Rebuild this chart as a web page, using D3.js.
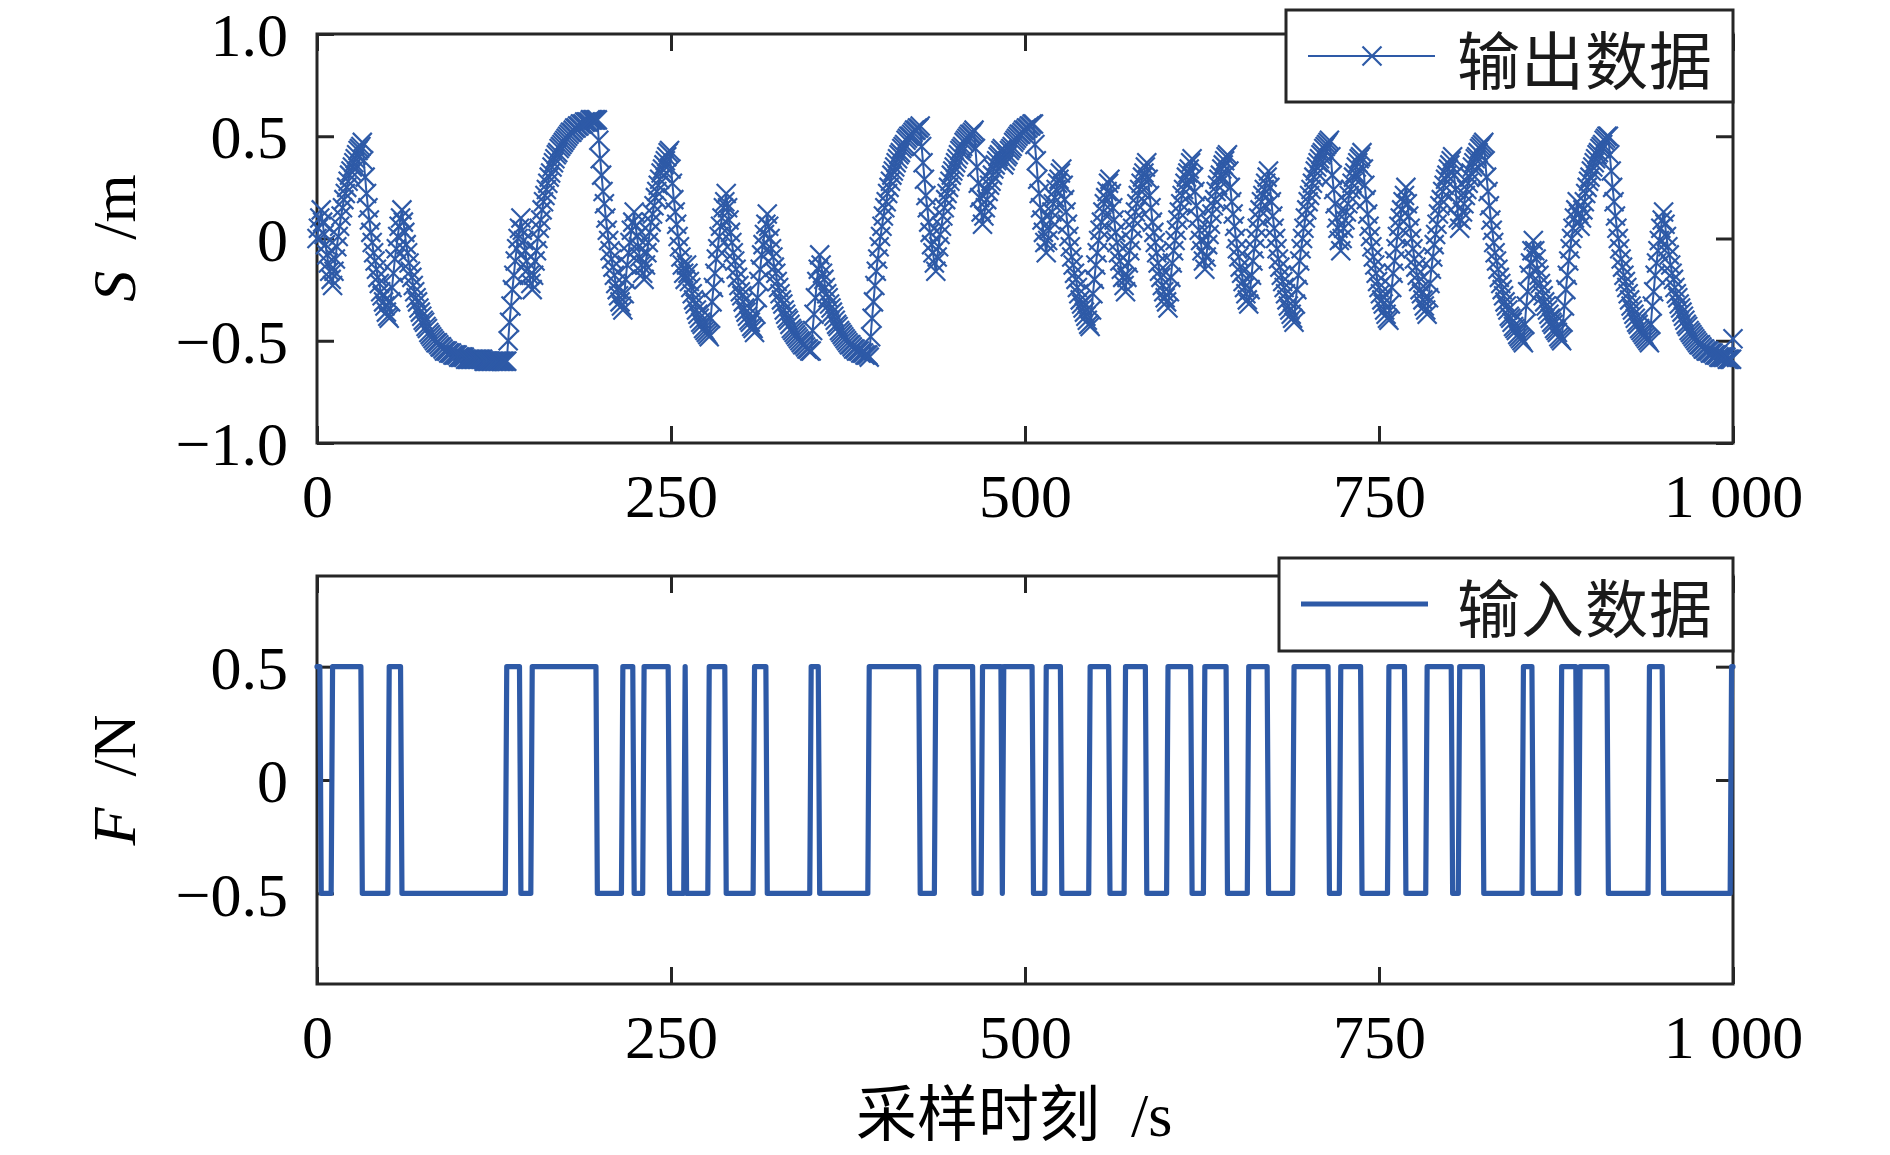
<!DOCTYPE html>
<html><head><meta charset="utf-8">
<script src="https://cdn.jsdelivr.net/npm/d3@7"></script>
<style>body{margin:0;background:#fff}</style>
</head><body>
<svg id="c" width="1890" height="1155"></svg>
<script>
const xTicks=[0,250,500,750,1000];
const xTickLabels=["0","250","500","750","1 000"];
const sTicks=[-1,-0.5,0,0.5,1];
const sTickLabels=["\u22121.0","\u22120.5","0","0.5","1.0"];
const fTicks=[-0.5,0,0.5];
const fTickLabels=["\u22120.5","0","0.5"];
const legendTop="输出数据";
const legendBottom="输入数据";

// input: first sample of each constant run and its level (N)
const inputStart=[0,3,11,32,51,60,134,144,152,198,216,224,231,249,260,261,277,289,309,318,349,355,390,426,437,464,470,484,485,506,515,526,546,560,571,586,601,618,627,643,658,672,690,715,723,738,757,769,784,802,807,824,852,859,879,890,892,912,941,951,999];
const inputLevel=[0.5,-0.5,0.5,-0.5,0.5,-0.5,0.5,-0.5,0.5,-0.5,0.5,-0.5,0.5,-0.5,0.5,-0.5,0.5,-0.5,0.5,-0.5,0.5,-0.5,0.5,-0.5,0.5,-0.5,0.5,-0.5,0.5,-0.5,0.5,-0.5,0.5,-0.5,0.5,-0.5,0.5,-0.5,0.5,-0.5,0.5,-0.5,0.5,-0.5,0.5,-0.5,0.5,-0.5,0.5,-0.5,0.5,-0.5,0.5,-0.5,0.5,-0.5,0.5,-0.5,0.5,-0.5,0.5];

// output, one value per sample 0..1000 (m)
const outputData=[
0,0.05,0.10,0.14,
0.08,0.02,-0.03,-0.08,-0.12,-0.16,-0.20,-0.23,
-0.16,-0.10,-0.04,0.01,0.06,0.11,0.15,0.19,0.22,0.25,0.28,0.31,0.33,0.35,0.37,0.39,0.41,0.43,0.44,0.45,0.47,
0.38,0.30,0.22,0.15,0.09,0.03,-0.02,-0.07,-0.11,-0.15,-0.19,-0.22,-0.26,-0.28,-0.31,-0.33,-0.36,-0.38,-0.39,
-0.31,-0.24,-0.17,-0.10,-0.05,0.01,0.06,0.10,0.14,
0.08,0.03,-0.03,-0.07,-0.12,-0.16,-0.19,-0.23,-0.26,-0.29,-0.31,-0.34,-0.36,-0.38,-0.40,-0.41,-0.43,-0.44,-0.46,-0.47,-0.48,-0.49,-0.50,-0.51,-0.51,-0.52,-0.53,-0.53,-0.54,-0.55,-0.55,-0.55,-0.56,-0.56,-0.56,-0.57,-0.57,-0.57,-0.57,-0.58,-0.58,-0.58,-0.58,-0.58,
-0.59,-0.59,-0.59,-0.59,-0.59,-0.59,-0.59,-0.59,-0.59,-0.59,-0.59,-0.59,-0.59,
-0.60,-0.60,-0.60,-0.60,-0.60,-0.60,-0.60,-0.60,-0.60,-0.60,-0.60,-0.60,-0.60,-0.60,-0.60,-0.60,-0.60,
-0.50,-0.41,-0.33,-0.25,-0.18,-0.11,-0.05,0.00,0.05,0.10,
0.04,-0.01,-0.06,-0.11,-0.15,-0.18,-0.22,-0.25,
-0.18,-0.11,-0.06,0.00,0.05,0.09,0.14,0.18,0.21,0.24,0.27,0.30,0.32,0.35,0.37,0.39,0.41,0.42,0.44,0.45,0.46,0.47,0.48,0.49,0.50,0.51,0.52,0.52,0.53,0.54,0.54,0.55,0.55,0.56,0.56,0.56,0.57,0.57,0.57,0.57,0.58,0.58,0.58,0.58,0.58,0.58,
0.48,0.39,0.31,0.23,0.17,0.10,0.04,-0.01,-0.06,-0.10,-0.14,-0.18,-0.22,-0.25,-0.28,-0.31,-0.33,-0.35,
-0.27,-0.20,-0.13,-0.07,-0.02,0.04,0.08,0.13,
0.06,0.01,-0.04,-0.09,-0.13,-0.17,-0.20,
-0.13,-0.07,-0.02,0.03,0.08,0.12,0.16,0.20,0.23,0.26,0.29,0.32,0.34,0.36,0.38,0.40,0.42,0.43,
0.34,0.27,0.19,0.13,0.07,0.01,-0.04,-0.09,-0.13,-0.17,-0.20,
-0.13,
-0.17,-0.21,-0.24,-0.27,-0.30,-0.32,-0.35,-0.37,-0.39,-0.41,-0.42,-0.44,-0.45,-0.46,-0.47,-0.48,
-0.39,-0.31,-0.24,-0.17,-0.10,-0.05,0.01,0.06,0.10,0.15,0.18,0.22,
0.15,0.09,0.03,-0.02,-0.07,-0.11,-0.15,-0.19,-0.23,-0.26,-0.28,-0.31,-0.34,-0.36,-0.38,-0.40,-0.41,-0.43,-0.44,-0.46,
-0.37,-0.29,-0.21,-0.15,-0.08,-0.03,0.02,0.07,0.12,
0.06,0.00,-0.05,-0.09,-0.14,-0.17,-0.21,-0.24,-0.27,-0.30,-0.32,-0.35,-0.37,-0.39,-0.40,-0.42,-0.44,-0.45,-0.46,-0.47,-0.48,-0.49,-0.50,-0.51,-0.52,-0.52,-0.53,-0.54,-0.54,-0.55,-0.55,
-0.45,-0.37,-0.29,-0.21,-0.15,-0.08,
-0.13,-0.17,-0.20,-0.24,-0.27,-0.29,-0.32,-0.34,-0.36,-0.38,-0.40,-0.42,-0.43,-0.45,-0.46,-0.47,-0.48,-0.49,-0.50,-0.51,-0.52,-0.52,-0.53,-0.54,-0.54,-0.55,-0.55,-0.55,-0.56,-0.56,-0.56,-0.57,-0.57,-0.57,-0.58,
-0.48,-0.39,-0.31,-0.23,-0.16,-0.10,-0.04,0.01,0.06,0.11,0.15,0.18,0.22,0.25,0.28,0.31,0.33,0.35,0.37,0.39,0.41,0.42,0.44,0.45,0.46,0.48,0.49,0.50,0.50,0.51,0.52,0.53,0.53,0.54,0.54,0.55,
0.45,0.37,0.29,0.21,0.15,0.08,0.03,-0.03,-0.07,-0.12,-0.16,
-0.09,-0.04,0.02,0.06,0.11,0.15,0.19,0.22,0.25,0.28,0.31,0.33,0.35,0.37,0.39,0.41,0.43,0.44,0.45,0.47,0.48,0.49,0.50,0.51,0.51,0.52,0.53,
0.44,0.35,0.27,0.20,0.13,0.07,
0.11,0.15,0.19,0.23,0.26,0.28,0.31,0.34,0.36,0.38,0.40,0.41,0.43,0.44,
0.36,
0.38,0.40,0.41,0.43,0.44,0.45,0.47,0.48,0.49,0.50,0.51,0.51,0.52,0.53,0.53,0.54,0.54,0.55,0.55,0.56,0.56,
0.46,0.38,0.29,0.22,0.15,0.09,0.03,-0.02,-0.07,
-0.01,0.04,0.09,0.13,0.17,0.20,0.24,0.27,0.29,0.32,0.34,
0.26,0.19,0.13,0.07,0.01,-0.04,-0.09,-0.13,-0.17,-0.20,-0.24,-0.27,-0.30,-0.32,-0.34,-0.36,-0.38,-0.40,-0.42,-0.43,
-0.35,-0.27,-0.20,-0.13,-0.07,-0.01,0.04,0.08,0.13,0.17,0.20,0.23,0.27,0.29,
0.22,0.15,0.09,0.03,-0.02,-0.07,-0.11,-0.15,-0.19,-0.23,-0.26,
-0.19,-0.12,-0.06,-0.01,0.05,0.09,0.13,0.17,0.21,0.24,0.27,0.30,0.32,0.35,0.37,
0.29,0.21,0.15,0.08,0.03,-0.02,-0.07,-0.12,-0.16,-0.19,-0.23,-0.26,-0.29,-0.31,-0.34,
-0.26,-0.19,-0.12,-0.06,-0.01,0.04,0.09,0.13,0.17,0.21,0.24,0.27,0.30,0.32,0.34,0.37,0.39,
0.30,0.23,0.16,0.10,0.04,-0.01,-0.06,-0.11,-0.15,
-0.09,-0.03,0.02,0.07,0.12,0.16,0.19,0.23,0.26,0.29,0.31,0.34,0.36,0.38,0.40,0.41,
0.33,0.25,0.18,0.12,0.06,0.00,-0.05,-0.09,-0.14,-0.17,-0.21,-0.24,-0.27,-0.30,-0.32,
-0.25,-0.18,-0.11,-0.05,0.00,0.05,0.10,0.14,0.18,0.21,0.24,0.27,0.30,0.33,
0.25,0.18,0.11,0.05,0.00,-0.05,-0.10,-0.14,-0.18,-0.21,-0.24,-0.27,-0.30,-0.33,-0.35,-0.37,-0.39,-0.41,
-0.32,-0.25,-0.18,-0.11,-0.05,0.00,0.05,0.10,0.14,0.18,0.21,0.24,0.27,0.30,0.33,0.35,0.37,0.39,0.41,0.42,0.44,0.45,0.46,0.47,0.48,
0.40,0.31,0.24,0.17,0.10,0.05,-0.01,-0.06,
0.00,0.05,0.09,0.13,0.17,0.21,0.24,0.27,0.30,0.32,0.35,0.37,0.39,0.40,0.42,
0.34,0.26,0.19,0.12,0.06,0.01,-0.04,-0.09,-0.13,-0.17,-0.21,-0.24,-0.27,-0.30,-0.32,-0.35,-0.37,-0.39,-0.40,
-0.32,-0.24,-0.17,-0.11,-0.05,0.01,0.06,0.10,0.14,0.18,0.21,0.25,
0.17,0.11,0.05,0.00,-0.05,-0.10,-0.14,-0.18,-0.21,-0.25,-0.27,-0.30,-0.33,-0.35,-0.37,
-0.29,-0.22,-0.15,-0.09,-0.03,0.02,0.07,0.12,0.16,0.19,0.23,0.26,0.29,0.31,0.34,0.36,0.38,0.40,
0.31,0.24,0.17,0.10,0.05,
0.09,0.13,0.17,0.21,0.24,0.27,0.30,0.32,0.35,0.37,0.39,0.40,0.42,0.44,0.45,0.46,0.47,
0.38,0.30,0.23,0.16,0.09,0.04,-0.02,-0.07,-0.11,-0.15,-0.19,-0.22,-0.25,-0.28,-0.31,-0.33,-0.35,-0.38,-0.39,-0.41,-0.43,-0.44,-0.45,-0.47,-0.48,-0.49,-0.50,-0.51,
-0.42,-0.33,-0.26,-0.18,-0.12,-0.06,-0.01,
-0.06,-0.10,-0.15,-0.18,-0.22,-0.25,-0.28,-0.31,-0.33,-0.35,-0.37,-0.39,-0.41,-0.42,-0.44,-0.45,-0.46,-0.48,-0.49,-0.50,
-0.41,-0.33,-0.25,-0.18,-0.11,-0.05,0.00,0.05,0.10,0.14,0.18,
0.12,0.06,
0.10,0.14,0.18,0.22,0.25,0.28,0.30,0.33,0.35,0.37,0.39,0.41,0.42,0.44,0.45,0.46,0.48,0.49,0.50,0.50,
0.41,0.33,0.25,0.18,0.11,0.05,0.00,-0.05,-0.10,-0.14,-0.18,-0.21,-0.24,-0.27,-0.30,-0.33,-0.35,-0.37,-0.39,-0.41,-0.42,-0.44,-0.45,-0.46,-0.47,-0.48,-0.49,-0.50,-0.51,
-0.42,-0.33,-0.26,-0.18,-0.12,-0.06,-0.01,0.05,0.09,0.13,
0.07,0.01,-0.04,-0.08,-0.13,-0.17,-0.20,-0.24,-0.27,-0.29,-0.32,-0.34,-0.36,-0.38,-0.40,-0.42,-0.43,-0.45,-0.46,-0.47,-0.48,-0.49,-0.50,-0.51,-0.52,-0.52,-0.53,-0.54,-0.54,-0.55,-0.55,-0.55,-0.56,-0.56,-0.56,-0.57,-0.57,-0.57,-0.58,-0.58,-0.58,-0.58,-0.58,-0.58,-0.59,-0.59,-0.59,-0.59,
-0.49
];

const svg=d3.select("#c");
svg.append("rect").attr("width",1890).attr("height",1155).attr("fill","#fff");
const blue="#2E5AA7", axc="#262626";
const serif="'Liberation Serif','Times New Roman',serif";
const cjk="'Noto Sans CJK SC','Noto Sans CJK JP',sans-serif";
const FS=62;

const x=d3.scaleLinear().domain([0,1000]).range([317,1733]);
const yS=d3.scaleLinear().domain([-1,1]).range([443,34]);
const yF=d3.scaleLinear().domain([-0.9,0.9]).range([984,576]);

function styleAxis(g,labels){
  g.select(".domain").remove();
  g.attr("font-family",serif).attr("font-size",FS);
  g.selectAll(".tick line").attr("stroke",axc).attr("stroke-width",3);
  g.selectAll(".tick text").attr("fill","#000");
  if(!labels) g.selectAll(".tick text").remove();
}
function panel(yScale,yT,yL,top,bottom){
  const gb=svg.append("g").attr("transform",`translate(0,${bottom})`)
    .call(d3.axisBottom(x).tickValues(xTicks).tickFormat((d,i)=>xTickLabels[i]).tickSize(-17).tickPadding(0));
  styleAxis(gb,true);
  gb.selectAll(".tick text").attr("y",52).attr("dy","0.35em");
  const gt=svg.append("g").attr("transform",`translate(0,${top})`)
    .call(d3.axisTop(x).tickValues(xTicks).tickSize(-17));
  styleAxis(gt,false);
  const gl=svg.append("g").attr("transform",`translate(317,0)`)
    .call(d3.axisLeft(yScale).tickValues(yT).tickFormat((d,i)=>yL[i]).tickSize(-17).tickPadding(0));
  styleAxis(gl,true);
  gl.selectAll(".tick text").attr("x",-29).attr("dy","0.35em");
  const gr=svg.append("g").attr("transform",`translate(1733,0)`)
    .call(d3.axisRight(yScale).tickValues(yT).tickSize(-17));
  styleAxis(gr,false);
  svg.append("rect").attr("x",317).attr("y",top).attr("width",1733-317).attr("height",bottom-top)
    .attr("fill","none").attr("stroke",axc).attr("stroke-width",3);
}
panel(yS,sTicks,sTickLabels,34,443);
panel(yF,fTicks,fTickLabels,576,984);

// output line + x markers
const line=d3.line().x((d,i)=>x(i)).y(d=>yS(d));
svg.append("path").datum(outputData).attr("d",line).attr("fill","none")
  .attr("stroke",blue).attr("stroke-width",2).attr("stroke-linejoin","round");
const mk="M-9.5,-9.5L9.5,9.5M-9.5,9.5L9.5,-9.5";
svg.append("g").selectAll("path").data(outputData).join("path")
  .attr("d",mk).attr("transform",(d,i)=>`translate(${x(i)},${yS(d)})`)
  .attr("stroke",blue).attr("stroke-width",2.2).attr("fill","none");

// input line
const inPts=[];
inputStart.forEach((s,i)=>{
  const e=i<inputStart.length-1?inputStart[i+1]-1:1000;
  inPts.push([s,inputLevel[i]]);
  inPts.push([e,inputLevel[i]]);
});
svg.append("path").datum(inPts).attr("d",d3.line().x(d=>x(d[0])).y(d=>yF(d[1])))
  .attr("fill","none").attr("stroke",blue).attr("stroke-width",5.2)
  .attr("stroke-linejoin","round").attr("stroke-linecap","round");

// y labels
function ylab(cx,cy,ital,rest){
  const t=svg.append("text").attr("transform",`translate(${cx},${cy}) rotate(-90)`)
    .attr("text-anchor","middle").attr("dominant-baseline","central")
    .attr("font-family",serif).attr("font-size",FS).attr("fill","#000");
  t.append("tspan").attr("font-style","italic").text(ital);
  t.append("tspan").text("\u2002/"+rest);
}
ylab(114,238,"S","m");
ylab(114,780,"F","N");

// x label
const xl=svg.append("text").attr("x",856).attr("y",1136).attr("fill","#000");
xl.append("tspan").attr("font-family",cjk).attr("font-size",61).text("采样时刻");
xl.append("tspan").attr("font-family",serif).attr("font-size",FS).text("\u2002/s");

// legends
function legend(bx,by,bw,bh,ly,withMarker,lw,label){
  svg.append("rect").attr("x",bx).attr("y",by).attr("width",bw).attr("height",bh)
    .attr("fill","#fff").attr("stroke",axc).attr("stroke-width",3);
  svg.append("line").attr("x1",bx+22).attr("x2",bx+149).attr("y1",ly).attr("y2",ly)
    .attr("stroke",blue).attr("stroke-width",lw);
  if(withMarker) svg.append("path").attr("d",mk).attr("transform",`translate(${bx+86},${ly})`)
    .attr("stroke",blue).attr("stroke-width",2.2).attr("fill","none");
  svg.append("text").attr("x",1457).attr("y",ly).attr("dominant-baseline","central")
    .attr("font-family",cjk).attr("font-size",63).attr("letter-spacing",1).attr("fill","#1a1a1a").text(label);
}
legend(1286,10,447,92,56,true,2,legendTop);
legend(1279,558,454,93,604,false,5.2,legendBottom);
</script>
</body></html>
